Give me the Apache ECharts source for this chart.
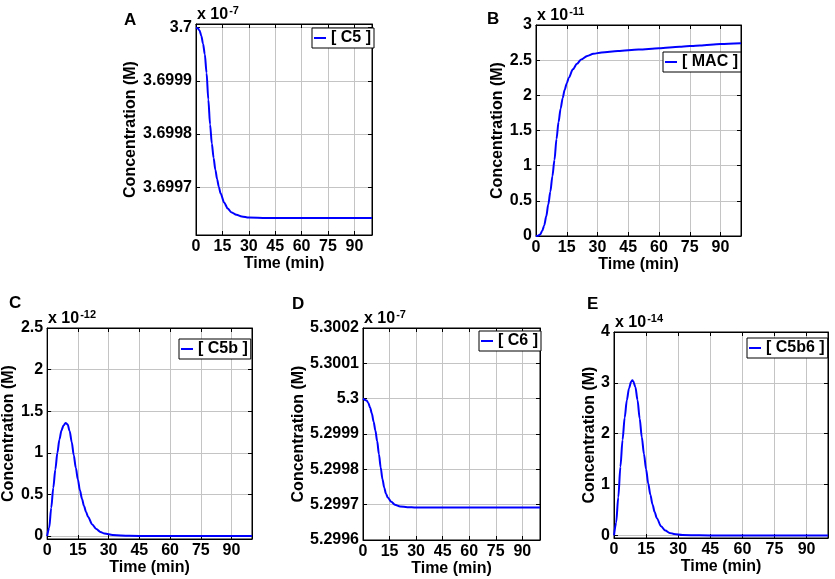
<!DOCTYPE html>
<html><head><meta charset="utf-8">
<script src="https://cdn.jsdelivr.net/npm/echarts@6/dist/echarts.min.js"></script>
<style>html,body{margin:0;padding:0;background:#fff}#c{width:835px;height:579px}</style>
</head><body><div id="c"></div>
<script>
// ---- data (values in the axis multiplier units shown on each panel) ----
const timeTicks = [0, 15, 30, 45, 60, 75, 90];

const tC5 = [0,1,2,3,4,5,6,7,8,9,10,11,12,13,14,16,18,20,23,26,30,40,100];
const C5  = [3.700000,3.699999,3.699995,3.699985,3.699970,3.699950,3.699915,3.699865,3.699818,3.699782,3.699755,3.699733,3.699715,3.699700,3.699688,3.699671,3.699660,3.699653,3.699648,3.699645,3.699643,3.699642,3.699642];
const ticksC5 = [3.6997, 3.6998, 3.6999, 3.7];

const tMAC = [0,1,2,3,4,5,6,7,8,9,10,11,12,13,14,15,16,18,20,22,25,28,32,40,50,60,70,80,90,100];
const MAC  = [0,0.005,0.02,0.07,0.15,0.28,0.45,0.63,0.85,1.08,1.38,1.62,1.81,1.96,2.08,2.17,2.25,2.37,2.45,2.51,2.56,2.59,2.61,2.63,2.65,2.67,2.69,2.71,2.73,2.74];
const ticksMAC = [0, 0.5, 1, 1.5, 2, 2.5, 3];

const tC5b = [0,1,2,3,4,5,6,7,8,9,10,11,12,13,14,15,16,17,18,19,20,22,24,26,28,32,40,50,100];
const C5b  = [0,0.1,0.34,0.58,0.8,1.0,1.16,1.27,1.33,1.36,1.34,1.26,1.13,0.97,0.82,0.68,0.55,0.45,0.36,0.29,0.23,0.14,0.085,0.05,0.03,0.012,0.003,0,0];
const ticksC5b = [0, 0.5, 1, 1.5, 2, 2.5];

const tC6 = [0,2,3,4,5,6,7,8,9,10,11,12,13,14,16,18,21,25,30,100];
const C6  = [5.300000,5.299995,5.299988,5.299975,5.299958,5.299935,5.299910,5.299880,5.299843,5.299805,5.299772,5.299748,5.299731,5.299720,5.299708,5.299700,5.299695,5.299693,5.299692,5.299692];
const ticksC6 = [5.2996, 5.2997, 5.2998, 5.2999, 5.3, 5.3001, 5.3002];

const tC5b6 = [0,1,2,3,4,5,6,7,8,8.6,9,10,11,12,13,14,15,16,17,18,19,20,22,24,26,28,32,40,50,100];
const C5b6  = [0,0.25,0.75,1.35,1.88,2.32,2.66,2.89,3.02,3.05,3.03,2.92,2.66,2.3,1.93,1.6,1.3,1.02,0.8,0.61,0.46,0.34,0.18,0.095,0.05,0.03,0.01,0.002,0,0];
const ticksC5b6 = [0, 1, 2, 3, 4];

// ---- layout ----
const FONT = 'Liberation Sans, Arial, Helvetica, sans-serif';
const panels = [
  {letter:'A', name:'[ C5 ]',   t:tC5,   v:C5,   ticks:ticksC5,   min:3.69961, max:3.700007, exp:'-7',
   grid:{left:196, top:24, width:176, height:211}, yGap:57, legend:{left:312, top:28}, letterPos:[124,12]},
  {letter:'B', name:'[ MAC ]',  t:tMAC,  v:MAC,  ticks:ticksMAC,  min:0, max:3, exp:'-11',
   grid:{left:536, top:25, width:205, height:211}, yGap:28, legend:{left:663, top:52}, letterPos:[487,11]},
  {letter:'C', name:'[ C5b ]',  t:tC5b,  v:C5b,  ticks:ticksC5b,  min:-0.035, max:2.5, exp:'-12',
   grid:{left:47, top:328, width:205, height:211}, yGap:29, legend:{left:179, top:339}, letterPos:[9,295]},
  {letter:'D', name:'[ C6 ]',   t:tC6,   v:C6,   ticks:ticksC6,   min:5.2996, max:5.3002, exp:'-7',
   grid:{left:363, top:328, width:177, height:212}, yGap:56, legend:{left:479, top:331}, letterPos:[292,296]},
  {letter:'E', name:'[ C5b6 ]', t:tC5b6, v:C5b6, ticks:ticksC5b6, min:-0.05, max:4, exp:'-14',
   grid:{left:614, top:332, width:214, height:206}, yGap:14, legend:{left:747, top:338}, letterPos:[587,296]}
];

const txt = {fontFamily: FONT, fontWeight: 'bold', color: '#000'};
const fmt = v => String(+(+v).toFixed(4));

const grid = [], xAxis = [], yAxis = [], series = [], legend = [], title = [];
panels.forEach((p, i) => {
  grid.push(Object.assign({show:true, borderColor:'#000', borderWidth:1, backgroundColor:'#fff'}, p.grid));
  const tickStyle = {show:true, inside:true, length:4, lineStyle:{color:'#000', width:1}};
  xAxis.push({
    gridIndex:i, type:'value', min:0, max:100, position:'bottom',
    axisLine:{show:true, onZero:false, lineStyle:{color:'#000', width:1}},
    axisTick:Object.assign({customValues:timeTicks}, tickStyle),
    axisLabel:Object.assign({customValues:timeTicks, margin:4, fontSize:16, formatter:fmt}, txt),
    splitLine:{show:true, lineStyle:{color:'#c4c4c4', width:1}},
    name:'Time (min)', nameLocation:'middle', nameGap:19,
    nameTextStyle:Object.assign({fontSize:16}, txt)
  });
  xAxis.push({
    gridIndex:i, type:'value', min:0, max:100, position:'top',
    axisLine:{show:true, onZero:false, lineStyle:{color:'#000', width:1}},
    axisTick:Object.assign({customValues:timeTicks}, tickStyle),
    axisLabel:{show:false}, splitLine:{show:false}
  });
  yAxis.push({
    gridIndex:i, type:'value', min:p.min, max:p.max, position:'left',
    axisLine:{show:true, onZero:false, lineStyle:{color:'#000', width:1}},
    axisTick:Object.assign({customValues:p.ticks}, tickStyle),
    axisLabel:Object.assign({customValues:p.ticks, margin:4, fontSize:16, formatter:fmt}, txt),
    splitLine:{show:true, lineStyle:{color:'#c4c4c4', width:1}},
    name:'Concentration (M)', nameLocation:'middle', nameGap:p.yGap,
    nameTextStyle:Object.assign({fontSize:16}, txt)
  });
  yAxis.push({
    gridIndex:i, type:'value', min:p.min, max:p.max, position:'right',
    axisLine:{show:true, onZero:false, lineStyle:{color:'#000', width:1}},
    axisTick:Object.assign({customValues:p.ticks}, tickStyle),
    axisLabel:{show:false}, splitLine:{show:false}
  });
  series.push({
    name:p.name, type:'line', xAxisIndex:2*i, yAxisIndex:2*i,
    data:p.t.map((t, k) => [t, p.v[k]]),
    showSymbol:false, symbol:'none', smooth:0.3, smoothMonotone:'x',
    lineStyle:{color:'#0000ff', width:2}, itemStyle:{color:'#0000ff'},
    animation:false
  });
  legend.push({
    data:[p.name], left:p.legend.left, top:p.legend.top, orient:'horizontal',
    backgroundColor:'#fff', borderColor:'#000', borderWidth:1, borderRadius:0,
    padding:[2,3,2,2], icon:'rect', itemWidth:12, itemHeight:2,
    textStyle:Object.assign({fontSize:16}, txt), selectedMode:false
  });
  title.push({
    text:p.letter, left:p.letterPos[0], top:p.letterPos[1], padding:0,
    textStyle:Object.assign({fontSize:17}, txt)
  });
  title.push({
    text:'{a|x 10}{s|' + p.exp + '}', left:p.grid.left + 1, top:p.grid.top - 19, padding:0,
    textStyle:{rich:{
      a:Object.assign({fontSize:16, lineHeight:18, verticalAlign:'bottom'}, txt),
      s:Object.assign({fontSize:11, lineHeight:18, verticalAlign:'top', padding:[0,0,0,1]}, txt)
    }}
  });
});

const chart = echarts.init(document.getElementById('c'), null, {renderer:'canvas'});
chart.setOption({animation:false, backgroundColor:'#fff', grid, xAxis, yAxis, series, legend, title});
</script>
</body></html>
